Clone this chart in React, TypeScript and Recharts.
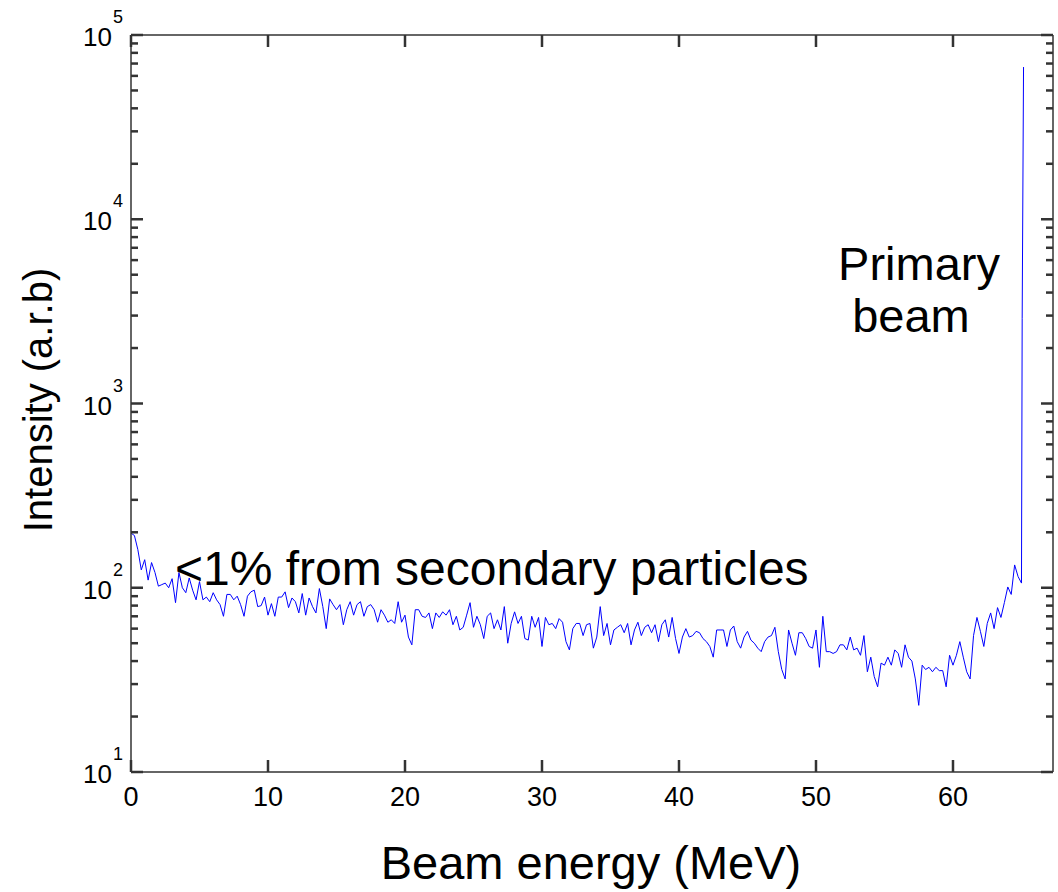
import React from 'react';
import { LineChart, Line, XAxis, YAxis, ReferenceLine } from 'recharts';

// intensity sampled every 0.25 MeV from 0 to 65 MeV (log axis, a.r.b)
const STEP = 0.25;
const intensity = [
  198, 192, 161, 125, 142, 110, 137, 121, 102, 104, 106, 100, 112, 83, 121, 100, 94, 113, 97, 86,
  108, 86, 89, 84, 94, 86, 81, 70, 92, 92, 86, 90, 81, 70, 90, 95, 97, 79, 80, 89,
  71, 82, 70, 89, 89, 95, 78, 88, 84, 73, 93, 71, 88, 79, 73, 99, 79, 60, 87, 81,
  76, 81, 63, 76, 84, 71, 81, 84, 70, 79, 81, 76, 65, 76, 71, 65, 67, 64, 84, 65,
  71, 54, 49, 76, 76, 70, 69, 73, 60, 73, 69, 74, 71, 76, 63, 70, 59, 61, 71, 83,
  61, 70, 63, 53, 70, 73, 60, 67, 59, 79, 50, 64, 74, 64, 70, 53, 52, 70, 61, 69,
  48, 69, 63, 64, 60, 68, 65, 51, 46, 60, 64, 64, 55, 63, 64, 47, 54, 79, 55, 64,
  49, 59, 61, 63, 57, 64, 49, 59, 65, 55, 61, 63, 57, 63, 51, 63, 67, 54, 69, 53,
  44, 54, 60, 54, 55, 58, 57, 53, 51, 48, 42, 59, 59, 59, 48, 59, 62, 51, 47, 54,
  58, 52, 50, 47, 45, 51, 54, 55, 61, 45, 36, 32, 59, 50, 43, 57, 57, 53, 48, 47,
  59, 37, 70, 45, 45, 44, 45, 49, 49, 46, 54, 46, 47, 43, 55, 35, 42, 33, 29, 39,
  38, 42, 38, 46, 44, 37, 49, 42, 40, 32, 23, 38, 36, 37, 35, 37, 35.5, 35.5, 29, 43,
  38, 43, 51, 42, 35, 32, 55, 69, 58, 48, 64, 73, 60, 78, 69, 83, 101, 92, 133, 115,
  106,
];

// primary beam peak
const peakEnergy = [65.05, 65.15];
const peakIntensity = [2900, 67000];

const xTicks = [0, 10, 20, 30, 40, 50, 60];
const yTicks = [
  10, 20, 30, 40, 50, 60, 70, 80, 90,
  100, 200, 300, 400, 500, 600, 700, 800, 900,
  1000, 2000, 3000, 4000, 5000, 6000, 7000, 8000, 9000,
  10000, 20000, 30000, 40000, 50000, 60000, 70000, 80000, 90000,
  100000,
];
const X_MAX = 67.3;
const Y_MIN = 10;
const Y_MAX = 100000;

const data = [
  ...intensity.map((v, i) => ({ energy: i * STEP, value: v })),
  ...peakEnergy.map((e, i) => ({ energy: e, value: peakIntensity[i] })),
];

const W = 1058;
const H = 892;
const PLOT = { left: 131, right: 1053, top: 35, bottom: 772 };
const FONT = '"Liberation Sans", Arial, Helvetica, sans-serif';
const AXIS = '#333333';
const SW = 1.5;
const TW = 2.5;

const isMajor = (v: number) => Math.abs(Math.log10(v) - Math.round(Math.log10(v))) < 1e-6;

const YTick = (props: any) => {
  const { y, payload } = props;
  const major = isMajor(payload.value);
  const exp = Math.round(Math.log10(payload.value));
  const len = major ? 12 : 7;
  return (
    <g>
      <rect x={PLOT.left} y={y - TW / 2} width={len} height={TW} fill={AXIS} />
      <rect x={PLOT.right - len} y={y - TW / 2} width={len} height={TW} fill={AXIS} />
      {major ? (
        <text x={112} y={y + 11} textAnchor="end" fontSize={26} fontFamily={FONT} fill="#000">10</text>
      ) : null}
      {major ? (
        <text x={113} y={y - 12} textAnchor="start" fontSize={18} fontFamily={FONT} fill="#000">{exp}</text>
      ) : null}
    </g>
  );
};

const XTick = (props: any) => {
  const { x, payload } = props;
  return (
    <g>
      <rect x={x - TW / 2} y={PLOT.bottom - 12} width={TW} height={12} fill={AXIS} />
      <rect x={x - TW / 2} y={PLOT.top} width={TW} height={12} fill={AXIS} />
      <text x={x} y={806} textAnchor="middle" fontSize={27} fontFamily={FONT} fill="#000">{payload.value}</text>
    </g>
  );
};

export default function App() {
  return (
    <div style={{ position: 'absolute', left: 0, top: 0, width: W, height: H, background: '#fff' }}>
      <LineChart width={W} height={H} data={data} margin={{ top: PLOT.top, right: W - PLOT.right, left: 0, bottom: 0 }}>
        <XAxis
          dataKey="energy"
          type="number"
          domain={[0, X_MAX]}
          ticks={xTicks}
          interval={0}
          height={H - PLOT.bottom}
          tickLine={false}
          tick={<XTick />}
          axisLine={{ stroke: AXIS, strokeWidth: SW }}
          allowDataOverflow
        />
        <YAxis
          type="number"
          scale="log"
          domain={[Y_MIN, Y_MAX]}
          ticks={yTicks}
          interval={0}
          width={PLOT.left}
          tickLine={false}
          tick={<YTick />}
          axisLine={{ stroke: AXIS, strokeWidth: SW }}
          allowDataOverflow
        />
        <ReferenceLine y={Y_MAX} stroke={AXIS} strokeWidth={SW} />
        <ReferenceLine x={X_MAX} stroke={AXIS} strokeWidth={SW} />
        <Line
          type="linear"
          dataKey="value"
          stroke="#0000ff"
          strokeWidth={1}
          dot={false}
          isAnimationActive={false}
        />
      </LineChart>
      <svg width={W} height={H} style={{ position: 'absolute', left: 0, top: 0, pointerEvents: 'none' }}>
        <g fontFamily={FONT} fill="#000">
          <text x={175} y={585} fontSize={48}>&lt;1% from secondary particles</text>
          <text x={919} y={280} fontSize={47} textAnchor="middle">Primary</text>
          <text x={911} y={332} fontSize={47} textAnchor="middle">beam</text>
          <text x={591} y={879} fontSize={47} textAnchor="middle">Beam energy (MeV)</text>
          <text transform="translate(52, 400) rotate(-90)" fontSize={40} textAnchor="middle">Intensity (a.r.b)</text>
        </g>
      </svg>
    </div>
  );
}
